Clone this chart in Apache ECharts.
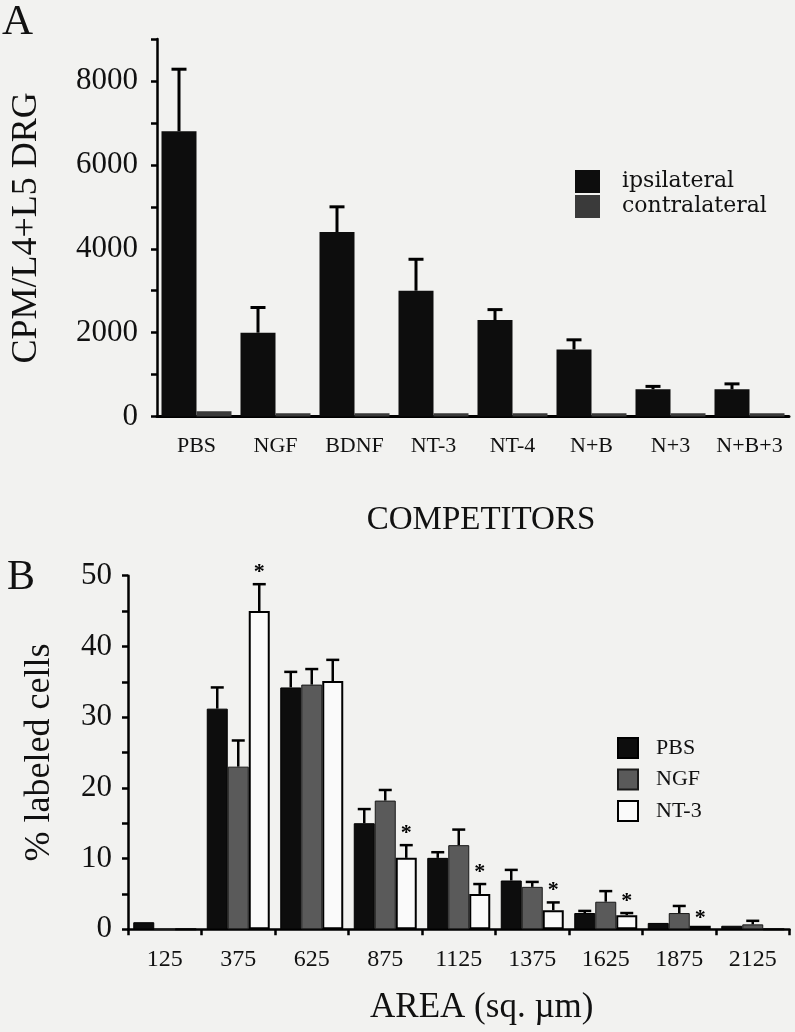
<!DOCTYPE html>
<html>
<head>
<meta charset="utf-8">
<script src="https://cdn.jsdelivr.net/npm/echarts@6/dist/echarts.min.js"></script>
<style>
html,body{margin:0;padding:0;background:#f2f2f0;}
#chart{width:795px;height:1032px;}
</style>
</head>
<body>
<div id="chart"></div>
<script>
// ---------- Panel A data ----------
const catsA = ['PBS','NGF','BDNF','NT-3','NT-4','N+B','N+3','N+B+3'];
const ipsi = [6800, 2000, 4400, 3000, 2300, 1600, 650, 650];
const ipsiErrTop = [8280, 2600, 5000, 3750, 2550, 1830, 720, 780];
const contra = [130, 80, 80, 80, 80, 80, 80, 80];
const yMaxA = 9000, yStepA = 1000, yLabelStepA = 2000;

// ---------- Panel B data ----------
const catsB = ['125','375','625','875','1125','1375','1625','1875','2125'];
const pbs = [1.0, 31.2, 34.2, 15.0, 10.1, 6.9, 2.3, 0.9, 0.5];
const pbsErrTop = [null, 34.2, 36.4, 17.0, 10.9, 8.4, 2.6, null, null];
const ngf = [0, 23.0, 34.6, 18.2, 11.9, 6.0, 3.9, 2.3, 0.7];
const ngfErrTop = [null, 26.7, 36.8, 19.7, 14.1, 6.7, 5.4, 3.3, 1.2];
const nt3 = [0, 45.0, 35.1, 10.1, 5.0, 2.7, 2.0, 0.5, 0];
const nt3ErrTop = [null, 48.8, 38.1, 11.9, 6.4, 3.8, 2.3, null, null];
const nt3Star = [false, true, false, true, true, true, true, true, false];
const yMaxB = 50, yStepB = 5, yLabelStepB = 10;

const SERIF = 'Liberation Serif';
const INK = '#111';

function errData(vals, tops, stars) {
  const out = [];
  vals.forEach((v, i) => {
    const t = tops[i];
    const s = stars ? stars[i] : false;
    if (t != null || s) out.push([i, v, t == null ? v : t, t != null ? 1 : 0, s ? 1 : 0]);
  });
  return out;
}

function errSeries(name, xi, yi, data, offset, cap, lw) {
  return {
    name: name, type: 'custom', xAxisIndex: xi, yAxisIndex: yi, z: 5,
    silent: true,
    renderItem: function (params, api) {
      const base = api.coord([api.value(0), api.value(1)]);
      const top = api.coord([api.value(0), api.value(2)]);
      const x = base[0] + offset;
      const children = [];
      if (api.value(3)) {
        children.push({type: 'line', shape: {x1: x, y1: base[1], x2: x, y2: top[1]}, style: {stroke: '#000', lineWidth: lw}});
        children.push({type: 'line', shape: {x1: x - cap / 2, y1: top[1], x2: x + cap / 2, y2: top[1]}, style: {stroke: '#000', lineWidth: lw}});
      }
      if (api.value(4)) {
        children.push({type: 'text', style: {text: '*', x: x, y: top[1] - (api.value(3) ? 1 : -4), textAlign: 'center', textVerticalAlign: 'bottom', font: 'bold 22px "Liberation Serif"', fill: '#000'}});
      }
      return {type: 'group', children: children};
    },
    data: data
  };
}

const axisLineStyle = {color: '#000', width: 2.5};

const chart = echarts.init(document.getElementById('chart'), null, {renderer: 'canvas'});
chart.setOption({
  backgroundColor: '#f2f2f0',
  animation: false,
  textStyle: {fontFamily: SERIF, color: INK},
  graphic: [
    {type: 'text', left: 2, top: 1, style: {text: 'A', font: '43px "Liberation Serif"', fill: INK}},
    {type: 'text', left: 7, top: 557, style: {text: 'B', font: '42px "Liberation Serif"', fill: INK}}
  ],
  legend: [
    {
      data: ['ipsilateral', 'contralateral'], orient: 'vertical', left: 575, top: 170, padding: 0,
      itemWidth: 25, itemHeight: 23, itemGap: 2, icon: 'rect', selectedMode: false,
      textStyle: {fontFamily: 'DejaVu Serif', fontSize: 22, color: INK, padding: [0, 0, 0, 17]}
    },
    {
      data: ['PBS', 'NGF', 'NT-3'], orient: 'vertical', left: 617, top: 737, padding: 0,
      itemWidth: 20, itemHeight: 20, itemGap: 9.5, icon: 'rect', selectedMode: false,
      textStyle: {fontFamily: SERIF, fontSize: 22, color: INK, padding: [0, 0, 0, 13]}
    }
  ],
  grid: [
    {left: 157, top: 39, width: 632, height: 377.6},
    {left: 128, top: 575.7, width: 661.5, height: 353.6}
  ],
  xAxis: [
    {
      gridIndex: 0, type: 'category', data: catsA,
      axisLine: {lineStyle: {color: '#000', width: 3}},
      axisTick: {show: false},
      axisLabel: {fontFamily: SERIF, fontSize: 22, color: INK, margin: 19, interval: 0},
      name: 'COMPETITORS', nameLocation: 'middle', nameGap: 87,
      nameTextStyle: {fontFamily: SERIF, fontSize: 33, color: INK, padding: [0, 0, 0, 16]}
    },
    {
      gridIndex: 1, type: 'category', data: catsB,
      axisLine: {lineStyle: axisLineStyle},
      axisTick: {show: true, inside: false, length: 6, alignWithLabel: false, interval: 0, lineStyle: {color: '#000', width: 2.5}},
      axisLabel: {fontFamily: SERIF, fontSize: 24, color: INK, margin: 18, interval: 0},
      name: 'AREA (sq. \u00b5m)', nameLocation: 'middle', nameGap: 61,
      nameTextStyle: {fontFamily: SERIF, fontSize: 35, color: INK, padding: [0, 0, 0, 46]}
    }
  ],
  yAxis: [
    {
      gridIndex: 0, type: 'value', min: 0, max: yMaxA, interval: yStepA,
      splitLine: {show: false},
      axisLine: {show: true, lineStyle: axisLineStyle},
      axisTick: {show: true, inside: false, length: 6, lineStyle: {color: '#000', width: 2.5}},
      axisLabel: {fontFamily: SERIF, fontSize: 31, color: INK, margin: 19,
        formatter: v => (v % yLabelStepA === 0 && v < yMaxA) ? String(v) : ''},
      name: 'CPM/L4+L5 DRG', nameLocation: 'middle', nameGap: 112,
      nameTextStyle: {fontFamily: SERIF, fontSize: 36, color: INK}
    },
    {
      gridIndex: 1, type: 'value', min: 0, max: yMaxB, interval: yStepB,
      splitLine: {show: false},
      axisLine: {show: true, lineStyle: axisLineStyle},
      axisTick: {show: true, inside: false, length: 6, lineStyle: {color: '#000', width: 2.5}},
      axisLabel: {fontFamily: SERIF, fontSize: 31, color: INK, margin: 16,
        formatter: v => (v % yLabelStepB === 0) ? String(v) : ''},
      name: '% labeled cells', nameLocation: 'middle', nameGap: 70,
      nameTextStyle: {fontFamily: SERIF, fontSize: 36, color: INK}
    }
  ],
  series: [
    {name: 'ipsilateral', type: 'bar', xAxisIndex: 0, yAxisIndex: 0, data: ipsi, barWidth: 35, barGap: '0%',
      itemStyle: {color: '#0d0d0d'}},
    {name: 'contralateral', type: 'bar', xAxisIndex: 0, yAxisIndex: 0, data: contra, barWidth: 35, barGap: '0%',
      itemStyle: {color: '#3a3a3a'}},
    errSeries('errA', 0, 0, errData(ipsi, ipsiErrTop, null), -17.5, 15, 3),
    {name: 'PBS', type: 'bar', xAxisIndex: 1, yAxisIndex: 1, data: pbs, barWidth: 21, barGap: '0%',
      itemStyle: {color: '#0d0d0d', borderColor: '#000', borderWidth: 1}},
    {name: 'NGF', type: 'bar', xAxisIndex: 1, yAxisIndex: 1, data: ngf, barWidth: 21, barGap: '0%',
      itemStyle: {color: '#5a5a5a', borderColor: '#1a1a1a', borderWidth: 1}},
    {name: 'NT-3', type: 'bar', xAxisIndex: 1, yAxisIndex: 1, data: nt3, barWidth: 21, barGap: '0%',
      itemStyle: {color: '#fafafa', borderColor: '#000', borderWidth: 2}},
    errSeries('errPBS', 1, 1, errData(pbs, pbsErrTop, null), -21, 13, 2.5),
    errSeries('errNGF', 1, 1, errData(ngf, ngfErrTop, null), 0, 13, 2.5),
    errSeries('errNT3', 1, 1, errData(nt3, nt3ErrTop, nt3Star), 21, 13, 2.5)
  ]
});
</script>
</body>
</html>
